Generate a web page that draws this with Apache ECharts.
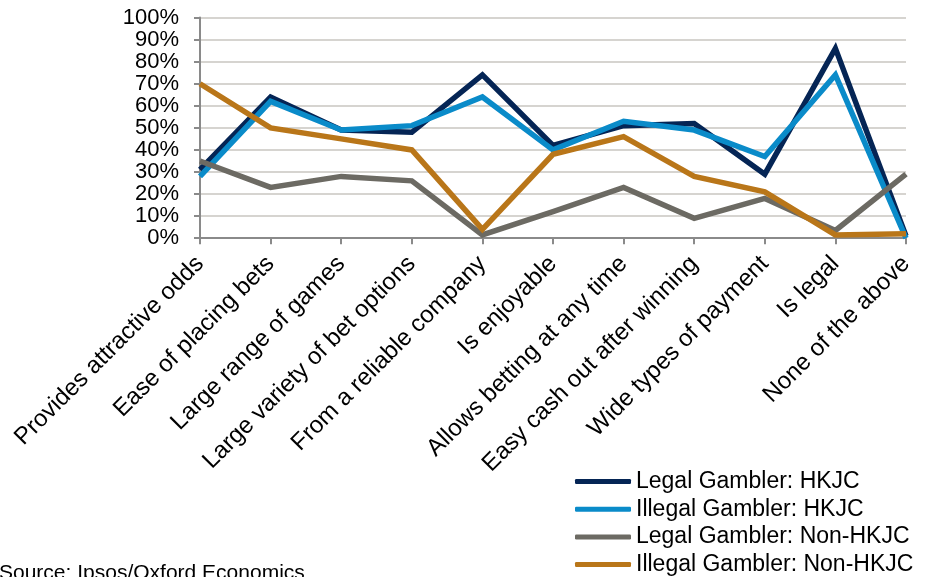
<!DOCTYPE html>
<html>
<head>
<meta charset="utf-8">
<script src="https://cdn.jsdelivr.net/npm/echarts@6/dist/echarts.min.js"></script>
<style>
  html, body { margin: 0; padding: 0; background: #ffffff; }
  #chart { width: 929px; height: 577px; }
</style>
</head>
<body>
<div id="chart"></div>
<script>
// Reasons for choosing a betting operator, share of respondents (%)
const categories = [
  'Provides attractive odds',
  'Ease of placing bets',
  'Large range of games',
  'Large variety of bet options',
  'From a reliable company',
  'Is enjoyable',
  'Allows betting at any time',
  'Easy cash out after winning',
  'Wide types of payment',
  'Is legal',
  'None of the above'
];
const legalHKJC      = [31, 64, 49, 48, 74, 42, 51, 52, 29, 86, 1];
const illegalHKJC    = [28, 62, 49, 51, 64, 40, 53, 49, 37, 74, 0];
const legalNonHKJC   = [35, 23, 28, 26, 1.5, 12, 23, 9, 18, 3.5, 29];
const illegalNonHKJC = [70, 50, 45, 40, 4, 38, 46, 28, 21, 1.5, 2];
const yTicks = [0, 10, 20, 30, 40, 50, 60, 70, 80, 90, 100];

const seriesDefs = [
  { name: 'Legal Gambler: HKJC',       data: legalHKJC,      color: '#052555' },
  { name: 'Illegal Gambler: HKJC',     data: illegalHKJC,    color: '#0a8bc9' },
  { name: 'Legal Gambler: Non-HKJC',   data: legalNonHKJC,   color: '#6c6a63' },
  { name: 'Illegal Gambler: Non-HKJC', data: illegalNonHKJC, color: '#b97619' }
];

const FONT = '"Liberation Sans", Arial, sans-serif';
const chart = echarts.init(document.getElementById('chart'), null, { renderer: 'canvas' });

chart.setOption({
  animation: false,
  backgroundColor: '#ffffff',
  grid: { left: 200, top: 17.5, width: 706, height: 220.7, containLabel: false },
  xAxis: {
    type: 'category',
    data: categories,
    boundaryGap: false,
    axisLine: { lineStyle: { color: '#8a8a8a', width: 2 } },
    axisTick: { show: true, alignWithLabel: true, length: 6, lineStyle: { color: '#8a8a8a', width: 2 } },
    axisLabel: {
      interval: 0,
      rotate: 45,
      margin: 22,
      hideOverlap: false,
      color: '#000000',
      fontFamily: FONT,
      fontSize: 24
    },
    splitLine: { show: false }
  },
  yAxis: {
    type: 'value',
    min: yTicks[0],
    max: yTicks[yTicks.length - 1],
    interval: 10,
    axisLine: { show: true, lineStyle: { color: '#8a8a8a', width: 2 } },
    axisTick: { show: true, inside: false, length: 6, lineStyle: { color: '#8a8a8a', width: 2 } },
    axisLabel: {
      formatter: '{value}%',
      margin: 21,
      showMinLabel: true,
      showMaxLabel: true,
      hideOverlap: false,
      color: '#000000',
      fontFamily: FONT,
      fontSize: 22,
      lineHeight: 22
    },
    splitLine: { show: true, lineStyle: { color: '#d6d4d0', width: 2 } }
  },
  legend: {
    orient: 'vertical',
    left: 575,
    top: 470,
    itemWidth: 56,
    itemHeight: 5,
    itemGap: 4.7,
    icon: 'roundRect',
    padding: 0,
    textStyle: { color: '#000000', fontFamily: FONT, fontSize: 23, lineHeight: 22 },
    data: seriesDefs.map(s => s.name)
  },
  graphic: [{
    type: 'text',
    left: -1,
    top: 563,
    style: {
      text: 'Source: Ipsos/Oxford Economics',
      fill: '#000000',
      font: '21px "Liberation Sans", Arial, sans-serif'
    }
  }],
  series: seriesDefs.map(s => ({
    name: s.name,
    type: 'line',
    data: s.data,
    symbol: 'none',
    showSymbol: false,
    color: s.color,
    lineStyle: { color: s.color, width: 5.5, join: 'miter', cap: 'butt' },
    itemStyle: { color: s.color }
  }))
});
</script>
</body>
</html>
